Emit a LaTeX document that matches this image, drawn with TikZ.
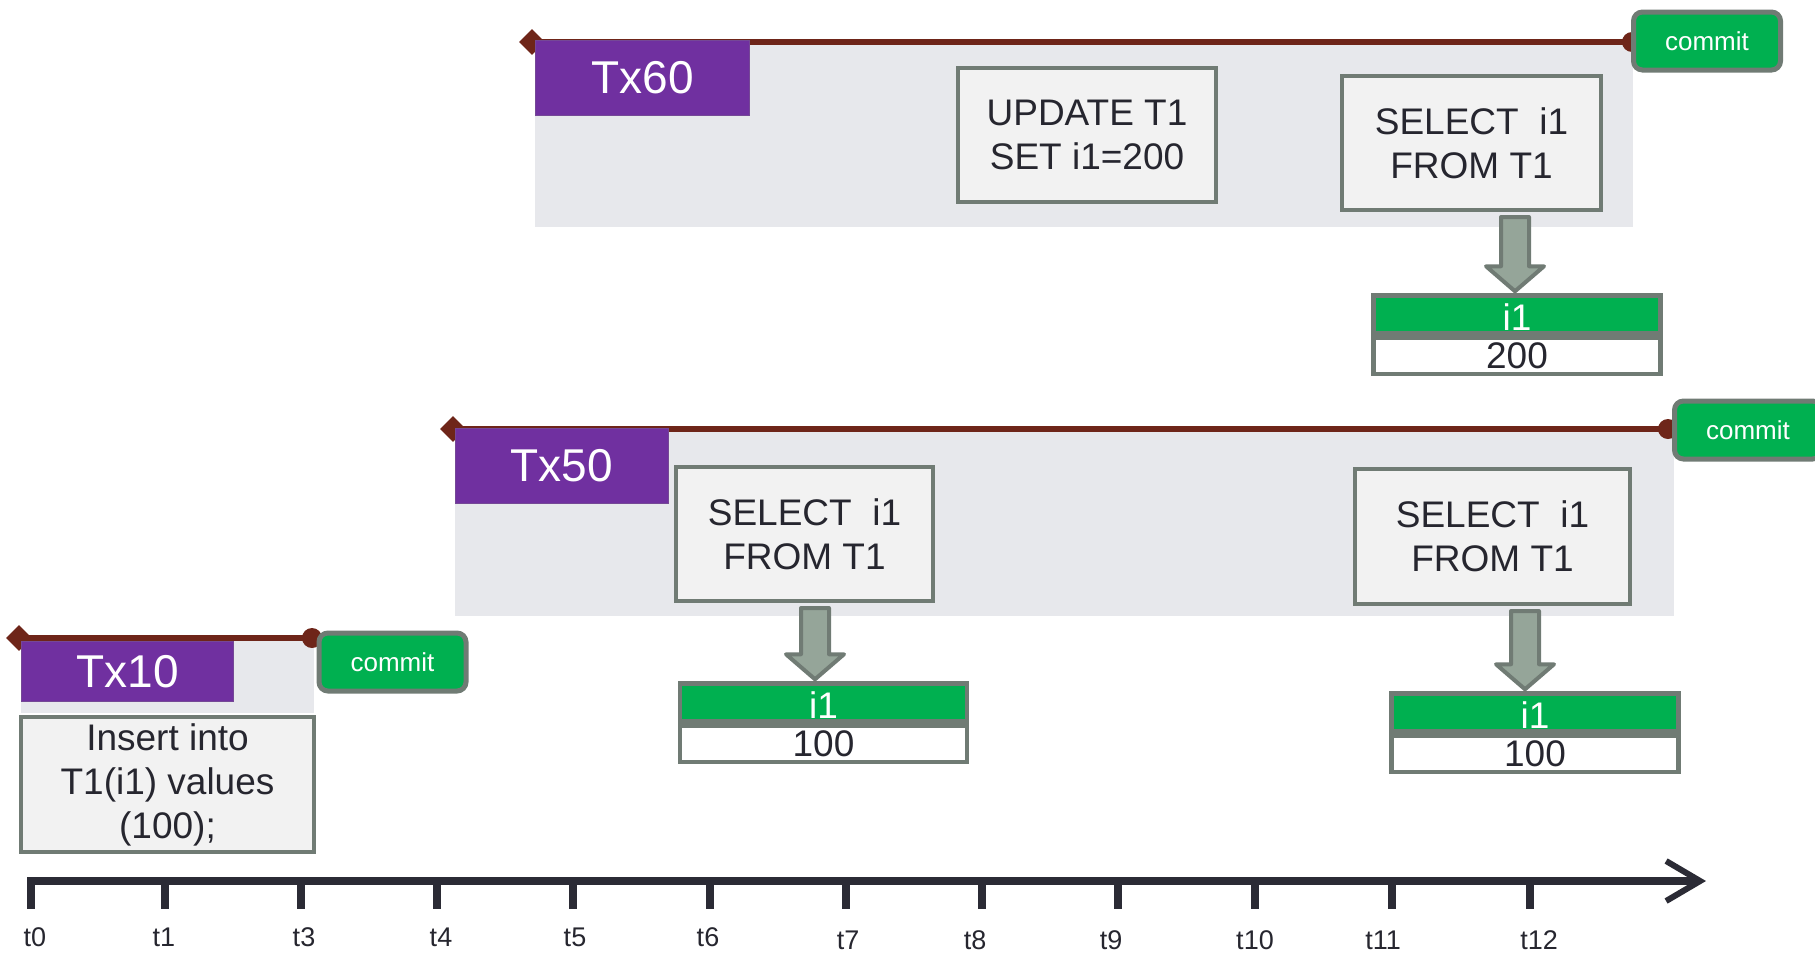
\documentclass[tikz,border=0pt]{standalone}
\usepackage{fontspec}
\setmainfont{Liberation Sans}
\usepackage{xcolor}
\usetikzlibrary{arrows.meta,positioning,calc,shapes.geometric}
\definecolor{BarRed}{RGB}{110,37,25}
\definecolor{TxPurple}{RGB}{112,48,160}
\definecolor{CommitGreen}{RGB}{0,176,80}
\definecolor{BoxGray}{RGB}{112,123,116}
\definecolor{StmtFill}{RGB}{242,242,242}
\definecolor{BgGray}{RGB}{231,232,236}
\definecolor{ArrowFill}{RGB}{149,165,153}
\definecolor{Ink}{RGB}{38,38,47}
\definecolor{AxisInk}{RGB}{43,43,53}

\begin{document}
\begin{tikzpicture}[x=1pt, y=-1pt,
    txbg/.style={fill=BgGray},
    txbar/.style={draw=BarRed, line width=6pt},
    barstart/.style={diamond, fill=BarRed, inner sep=0pt, minimum size=26pt},
    barend/.style={circle, fill=BarRed, inner sep=0pt, minimum size=20pt},
    txname/.style={fill=TxPurple, draw=TxPurple!70!gray, line width=1pt, text=white, inner sep=0pt, font=\fontsize{46}{50}\selectfont},
    stmt/.style={draw=BoxGray, line width=4pt, fill=StmtFill, text=Ink, inner sep=0pt, align=center, font=\fontsize{37}{44}\selectfont},
    commitbox/.style={draw=BoxGray, line width=5pt, fill=CommitGreen, rounded corners=9pt, text=white, inner sep=0pt, minimum width=147pt, minimum height=58pt, font=\fontsize{26}{30}\selectfont},
    valhead/.style={draw=BoxGray, line width=4.5pt, fill=CommitGreen, text=white, inner sep=0pt, minimum width=287pt, minimum height=38pt, text height=32pt, text depth=0pt, font=\fontsize{37}{44}\selectfont},
    valcell/.style={draw=BoxGray, line width=4.5pt, fill=white, text=Ink, inner sep=0pt, minimum width=287pt, minimum height=36pt, font=\fontsize{37}{44}\selectfont},
    readarrow/.style={draw=BoxGray, line width=4pt, fill=ArrowFill, line join=round},
    timeaxis/.style={draw=AxisInk, line width=8pt, -{Straight Barb[length=34pt,width=40pt,line width=6pt]}},
    tickline/.style={draw=AxisInk, line width=8pt},
    ticklabel/.style={text=Ink, inner sep=0pt, font=\fontsize{27}{30}\selectfont}]
  \useasboundingbox (0,0) rectangle (1815,954);

  % transaction backgrounds
  \fill[txbg] (535,44) rectangle (1633,227);
  \fill[txbg] (455,431) rectangle (1674,616);
  \fill[txbg] (21,641) rectangle (314,713);

  % transaction life lines
  \node[barstart] (s60) at (532,42) {};
  \node[barend] (e60) at (1632,42) {};
  \draw[txbar] (s60.center) -- (e60.center);
  \node[barstart] (s50) at (453,429) {};
  \node[barend] (e50) at (1668,429) {};
  \draw[txbar] (s50.center) -- (e50.center);
  \node[barstart] (s10) at (19,638) {};
  \node[barend] (e10) at (312,638) {};
  \draw[txbar] (s10.center) -- (e10.center);

  % transaction names
  \node[txname, minimum width=214pt, minimum height=75pt] (tx60) at (642.5,78) {Tx60};
  \node[txname, minimum width=213pt, minimum height=75pt] (tx50) at (562,466) {Tx50};
  \node[txname, minimum width=212pt, minimum height=60pt] (tx10) at (127.5,671.5) {Tx10};

  % statements
  \node[stmt, minimum width=258pt, minimum height=134pt] (upd60) at (1087,135) {UPDATE T1\\SET i1=200};
  \node[stmt, minimum width=259pt, minimum height=134pt] (sel60) at (1471.5,143) {SELECT~~i1\\FROM T1};
  \node[stmt, minimum width=257pt, minimum height=134pt] (sel50a) at (804.5,534) {SELECT~~i1\\FROM T1};
  \node[stmt, minimum width=275pt, minimum height=135pt] (sel50b) at (1492.5,536.5) {SELECT~~i1\\FROM T1};
  \node[stmt, minimum width=293pt, minimum height=135pt] (ins10) at (167.5,784.5) {Insert into\\T1(i1) values\\(100);};

  % commits
  \node[commitbox] (c60) at (1707,41) {commit};
  \node[commitbox] (c50) at (1748,430) {commit};
  \node[commitbox] (c10) at (392.5,662) {commit};

  % read results
  \node[valhead] (h60) at (1517,314.5) {i1};
  \node[valcell, below=0pt of h60] (v60) {200};
  \node[valhead] (h50a) at (823.5,702.5) {i1};
  \node[valcell, below=0pt of h50a] (v50a) {100};
  \node[valhead] (h50b) at (1535,712.5) {i1};
  \node[valcell, below=0pt of h50b] (v50b) {100};

  \foreach \src/\dst/\cx in {sel60/h60/1515, sel50a/h50a/815, sel50b/h50b/1525} {
    \path (\cx,0) coordinate (acol);
    \coordinate (at) at ($(\src.south -| acol)+(0,5)$);
    \coordinate (ap) at ($(\dst.north -| acol)+(0,-2)$);
    \draw[readarrow] ($(at)+(-14,0)$) -- ($(at)+(14,0)$) -- ($(ap)+(14,-25)$) -- ($(ap)+(29,-25)$)
      -- (ap) -- ($(ap)+(-29,-25)$) -- ($(ap)+(-14,-25)$) -- cycle;
  }

  % time axis
  \coordinate (ax0) at (27,881);
  \coordinate (ax1) at (1706,881);
  \draw[timeaxis] (ax0) -- (ax1);
  \foreach \x/\t/\lx/\ly in {31/t0/35/937, 165/t1/164/937, 301/t3/304/937, 437/t4/441/937, 573/t5/575/937, 710/t6/708/937,
      846/t7/848/940, 982/t8/975/940, 1118/t9/1111/940, 1255/t10/1255/940, 1392/t11/1383/940, 1530/t12/1539/940} {
    \draw[tickline] (\x,881) -- (\x,909);
    \node[ticklabel] (l\t) at (\lx,\ly) {\t};
  }
\end{tikzpicture}
\end{document}
